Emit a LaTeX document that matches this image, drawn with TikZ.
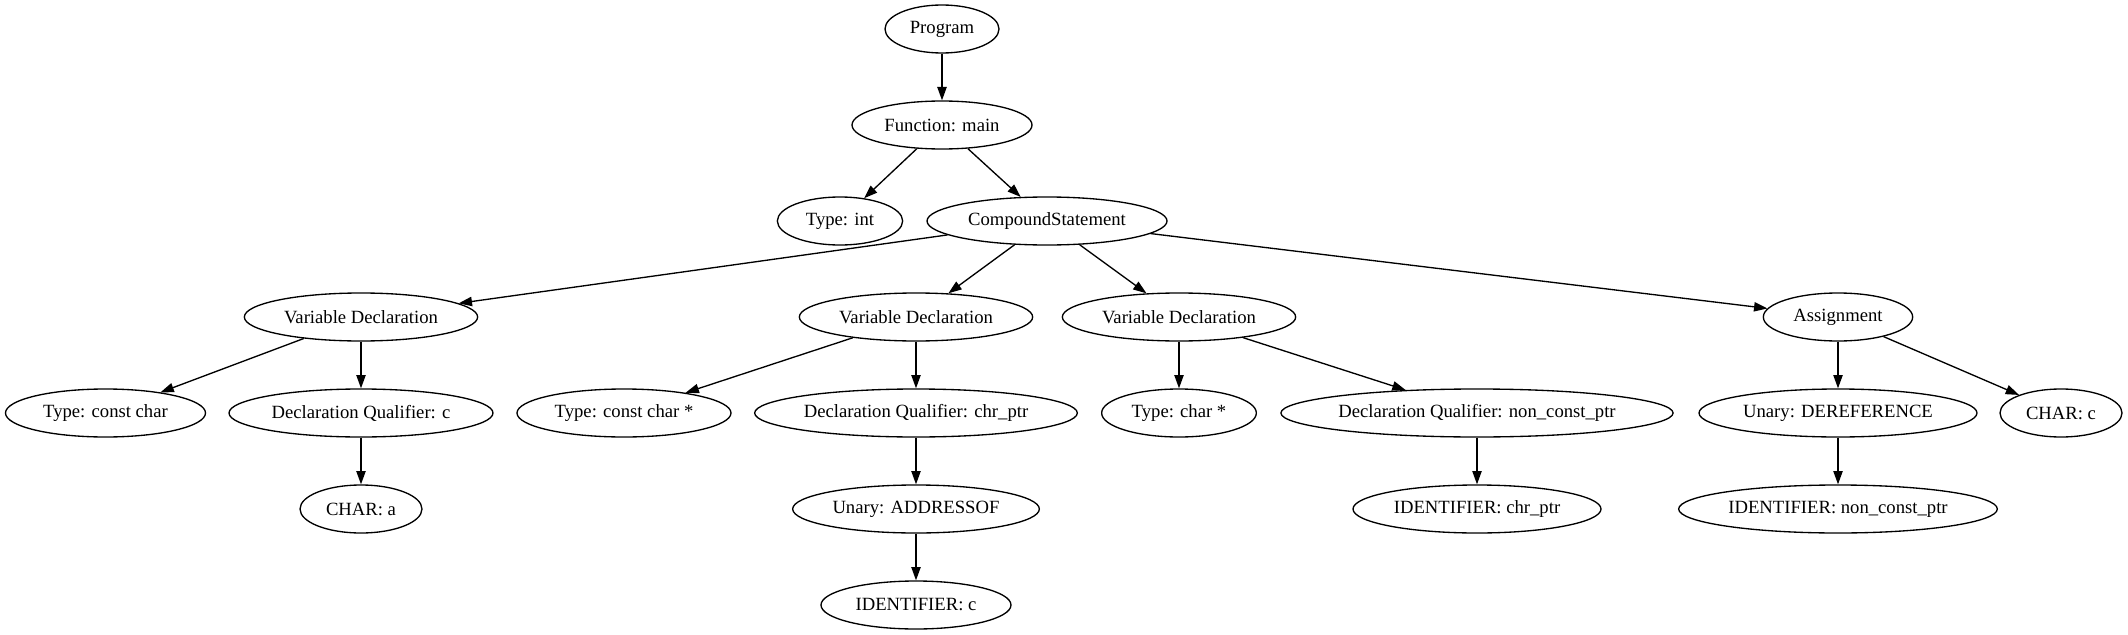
\documentclass[tikz,border=0pt]{standalone}
\usepackage{fontspec}
\setmainfont{Liberation Serif}
\usetikzlibrary{shapes.geometric,arrows.meta}

\tikzset{
  ast/.style={ellipse,draw,line width=1pt,minimum height=36pt,inner sep=0pt,
    font=\fontsize{14pt}{16pt}\selectfont},
  edge/.style={line width=1pt,-{Triangle[length=10pt,width=7pt]}}
}

\begin{document}
\begin{tikzpicture}[x=0.75pt,y=-0.75pt]
\def\rA{29};%nivel 0
\def\rB{125};%nivel 1
\def\rC{221};%nivel 2
\def\rD{317};%nivel 3
\def\rE{413};%nivel 4
\def\rF{509};%nivel 5
\def\rG{605};%nivel 6
\useasboundingbox (0,0) rectangle (2128,635);

%Raiz y funcion
\node[ast,minimum width=85.5pt] (prog) at (942,\rA) {Program};
\node[ast,minimum width=135pt] (fmain) at (942,\rB) {Function: main};
\node[ast,minimum width=94pt] (tyint) at (840,\rC) {Type: int};
\node[ast,minimum width=180pt] (cstmt) at (1047,\rC) {CompoundStatement};

%Sentencias
\node[ast,minimum width=175pt] (vdA) at (361,\rD) {Variable Declaration};
\node[ast,minimum width=175pt] (vdB) at (916,\rD) {Variable Declaration};
\node[ast,minimum width=175pt] (vdC) at (1179,\rD) {Variable Declaration};
\node[ast,minimum width=112pt] (asgn) at (1838,\rD) {Assignment};

%Hijos de las sentencias
\node[ast,minimum width=150pt] (tcc) at (105.5,\rE) {Type: const char};
\node[ast,minimum width=198pt] (dqc) at (361,\rE) {Declaration Qualifier: c};
\node[ast,minimum width=160.5pt] (tccp) at (624,\rE) {Type: const char *};
\node[ast,minimum width=242pt] (dqchr) at (916,\rE) {Declaration Qualifier: chr\_ptr};
\node[ast,minimum width=116pt] (tcp) at (1179,\rE) {Type: char *};
\node[ast,minimum width=294pt] (dqnc) at (1477,\rE) {Declaration Qualifier: non\_const\_ptr};
\node[ast,minimum width=208.5pt] (uder) at (1838,\rE) {Unary: DEREFERENCE};
\node[ast,minimum width=91.5pt] (charc) at (2061,\rE) {CHAR: c};

%Expresiones
\node[ast,minimum width=91.5pt] (chara) at (361,\rF) {CHAR: a};
\node[ast,minimum width=185pt] (uaddr) at (916,\rF) {Unary: ADDRESSOF};
\node[ast,minimum width=186pt] (idchr) at (1477,\rF) {IDENTIFIER: chr\_ptr};
\node[ast,minimum width=239pt] (idnc) at (1838,\rF) {IDENTIFIER: non\_const\_ptr};
\node[ast,minimum width=142.5pt] (idc) at (916,\rG) {IDENTIFIER: c};

%Aristas
\foreach \a/\b in {prog/fmain,fmain/tyint,fmain/cstmt,
    cstmt/vdA,cstmt/vdB,cstmt/vdC,cstmt/asgn,
    vdA/tcc,vdA/dqc,dqc/chara,
    vdB/tccp,vdB/dqchr,dqchr/uaddr,uaddr/idc,
    vdC/tcp,vdC/dqnc,dqnc/idchr,
    asgn/uder,asgn/charc,uder/idnc}{
    \draw[edge] (\a) -- (\b);
}
\end{tikzpicture}
\end{document}
